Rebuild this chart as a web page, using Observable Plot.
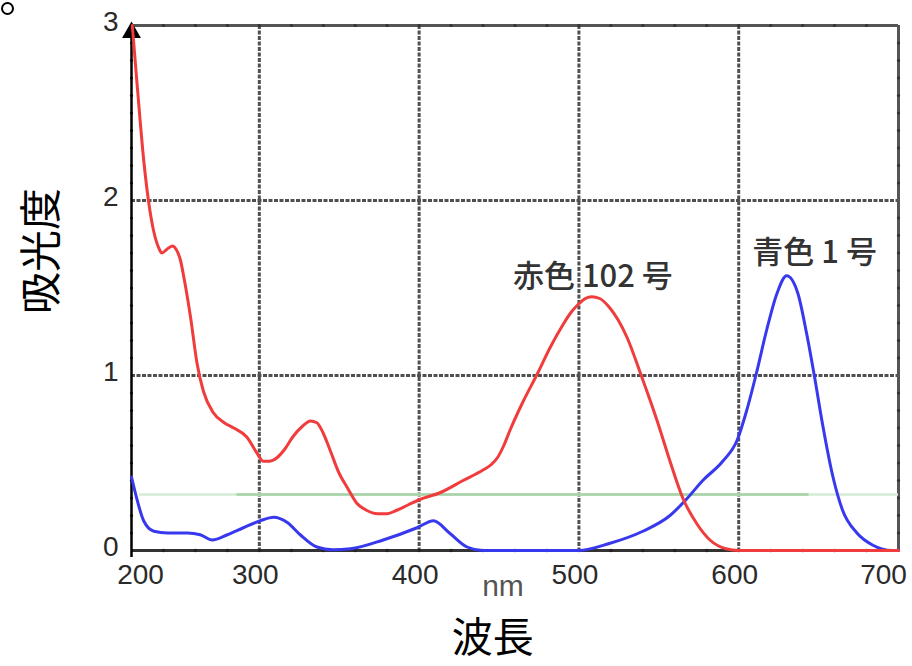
<!DOCTYPE html>
<html>
<head>
<meta charset="utf-8">
<script src="https://cdn.jsdelivr.net/npm/d3@7"></script>
<script src="https://cdn.jsdelivr.net/npm/@observablehq/plot@0.6"></script>
<style>
  html, body { margin: 0; padding: 0; background: #fff; }
  #wrap { position: relative; width: 912px; height: 666px; }
  #dot { position: absolute; left: 1px; top: 2px; width: 9px; height: 9px; border: 2.5px solid #000; border-radius: 50%; z-index: 2; }
</style>
</head>
<body>
<div id="wrap"><div id="dot"></div></div>
<script>
// Wavelength (nm) and absorbance
const redNm  = [220.5,223,225,227,230.6,234,237,239,242,245.6,248,250.6,253,257,261,265,271,278,284,292,299,302.5,306,311,316,321,327,332,336,340,344,350,355,361,367,374,380,386,393,400,413,427.5,440,445,449,453,457,465,474,482,490,495,500,504,508,513,519,530,539,549,557,565,574,582,592,600,650,700];
const redAbs = [3.0,2.72,2.5,2.29,2.0,1.82,1.73,1.70,1.72,1.74,1.72,1.66,1.55,1.33,1.07,0.91,0.79,0.73,0.70,0.65,0.55,0.51,0.51,0.53,0.58,0.65,0.71,0.74,0.73,0.67,0.58,0.44,0.36,0.27,0.23,0.21,0.21,0.23,0.26,0.29,0.33,0.40,0.46,0.49,0.53,0.60,0.69,0.85,1.01,1.16,1.29,1.36,1.41,1.44,1.45,1.44,1.39,1.22,1.0,0.74,0.51,0.30,0.15,0.06,0.01,0,0,0];
const blueNm  = [220,223.5,227.6,234,242.5,255,263,270.6,280,290,300.6,309,317.5,325.6,336,346,357,377.5,398.7,409,419,430,440,470,500,519,540,557,567,577.5,590,599,605,611,617.5,624,630,637,642.5,647.5,652.5,659,665,674,684,696,700];
const blueAbs = [0.42,0.29,0.17,0.11,0.10,0.10,0.09,0.06,0.09,0.13,0.17,0.19,0.16,0.09,0.02,0.005,0.01,0.06,0.13,0.17,0.10,0.02,0,0,0,0.04,0.11,0.2,0.29,0.40,0.51,0.63,0.80,1.01,1.26,1.47,1.57,1.47,1.24,0.99,0.72,0.42,0.23,0.10,0.03,0,0];

const xTicks = [220, 300, 400, 500, 600, 700];
const xTickLabels = ["200", "300", "400", "500", "600", "700"];
const yTicks = [0, 1, 2, 3];
const xGrid = [300, 400, 500, 600];
const yGrid = [1, 2];
const xMinor = [240,260,280,300,320,340,360,380,400,420,440,460,480,500,520,540,560,580,600,620,640,660,680];
const yMinor = [0.1,0.2,0.3,0.4,0.5,0.6,0.7,0.8,0.9,1.1,1.2,1.3,1.4,1.5,1.6,1.7,1.8,1.9,2.1,2.2,2.3,2.4,2.5,2.6,2.7,2.8,2.9];

const seriesLabels = ["赤色 102 号", "青色 1 号"];
const labelNm = [508.75, 647.5];
const labelAbs = [1.56, 1.70];

const greenLevel = 0.32;
const greenFaint = [225, 700];
const greenStrong = [286, 644];

const red = redNm.map((x, i) => ({nm: x, abs: redAbs[i]}));
const blue = blueNm.map((x, i) => ({nm: x, abs: blueAbs[i]}));
const labels = seriesLabels.map((t, i) => ({t, nm: labelNm[i], abs: labelAbs[i]}));
const fmt = d => xTickLabels[xTicks.indexOf(d)];
const cjk = "'Noto Sans CJK JP', 'Noto Sans CJK SC', sans-serif";
const gridStyle = {stroke: "#505050", strokeOpacity: 1, strokeWidth: 3, strokeDasharray: "4,1.5"};
const tickStyle = {tickSize: 0, fontSize: 28, color: "#2a2a2a", label: null};

const chart = Plot.plot({
  width: 912, height: 666,
  marginLeft: 131, marginRight: 14, marginTop: 25, marginBottom: 116,
  x: {domain: [220, 700]},
  y: {domain: [0, 3]},
  style: {fontFamily: "'Liberation Sans', Arial, sans-serif", background: "white", overflow: "visible"},
  marks: [
    Plot.gridX(xGrid, gridStyle),
    Plot.gridY(yGrid, gridStyle),
    Plot.ruleY([3], {stroke: "#555", strokeWidth: 3}),
    Plot.ruleX([700], {stroke: "#555", strokeWidth: 3}),
    Plot.ruleY([0], {stroke: "#333", strokeWidth: 3}),
    Plot.dot(xMinor, {x: d => d, y: 0, r: 1.8, fill: "#222", stroke: null}),
    Plot.dot(xMinor, {x: d => d, y: 3, r: 1.6, fill: "#333", stroke: null}),
    Plot.dot(yMinor, {x: 700, y: d => d, r: 1.6, fill: "#333", stroke: null}),
    Plot.dot(yMinor, {x: 220, y: d => d, r: 1.6, fill: "#333", stroke: null}),
    Plot.ruleX([220], {y1: -0.04, y2: 2.95, stroke: "black", strokeWidth: 2.5}),
    Plot.dot([220], {x: d => d, y: 3, symbol: "triangle", r: 7, fill: "black", stroke: null, dy: 7}),
    Plot.ruleY([greenLevel], {x1: greenFaint[0], x2: greenFaint[1], stroke: "#d6ebd6", strokeWidth: 2.5}),
    Plot.ruleY([greenLevel], {x1: greenStrong[0], x2: greenStrong[1], stroke: "#a6d2a6", strokeWidth: 2.5}),
    Plot.line(blue, {x: "nm", y: "abs", stroke: "#3838ee", strokeWidth: 3, curve: "monotone-x"}),
    Plot.line(red, {x: "nm", y: "abs", stroke: "#f03c3c", strokeWidth: 3, curve: "monotone-x"}),
    Plot.axisX([300, 400, 500, 600], {...tickStyle, tickPadding: 14, dx: -4, tickFormat: fmt}),
    Plot.axisX([220], {...tickStyle, tickPadding: 14, dx: 9, tickFormat: fmt}),
    Plot.axisX([700], {...tickStyle, tickPadding: 14, dx: -15, tickFormat: fmt}),
    Plot.axisY(yTicks, {...tickStyle, tickPadding: 13, dy: -3, tickFormat: d3.format("d")}),
    Plot.text(labels, {x: "nm", y: "abs", text: "t", fontSize: 31, fontWeight: 500, fill: "#333", fontFamily: cjk}),
    Plot.text(["nm"], {x: 452.5, frameAnchor: "bottom", textAnchor: "middle", lineAnchor: "middle", dy: 36, text: d => d, fontSize: 30, fill: "#555"}),
    Plot.text(["波長"], {x: 446, frameAnchor: "bottom", textAnchor: "middle", lineAnchor: "middle", dy: 88, text: d => d, fontSize: 41, fill: "black", fontFamily: cjk}),
    Plot.text(["吸光度"], {frameAnchor: "left", textAnchor: "middle", lineAnchor: "middle", dx: -89, dy: -37, rotate: -90, text: d => d, fontSize: 42, fill: "black", fontFamily: cjk})
  ]
});
document.getElementById("wrap").appendChild(chart);
</script>
</body>
</html>
